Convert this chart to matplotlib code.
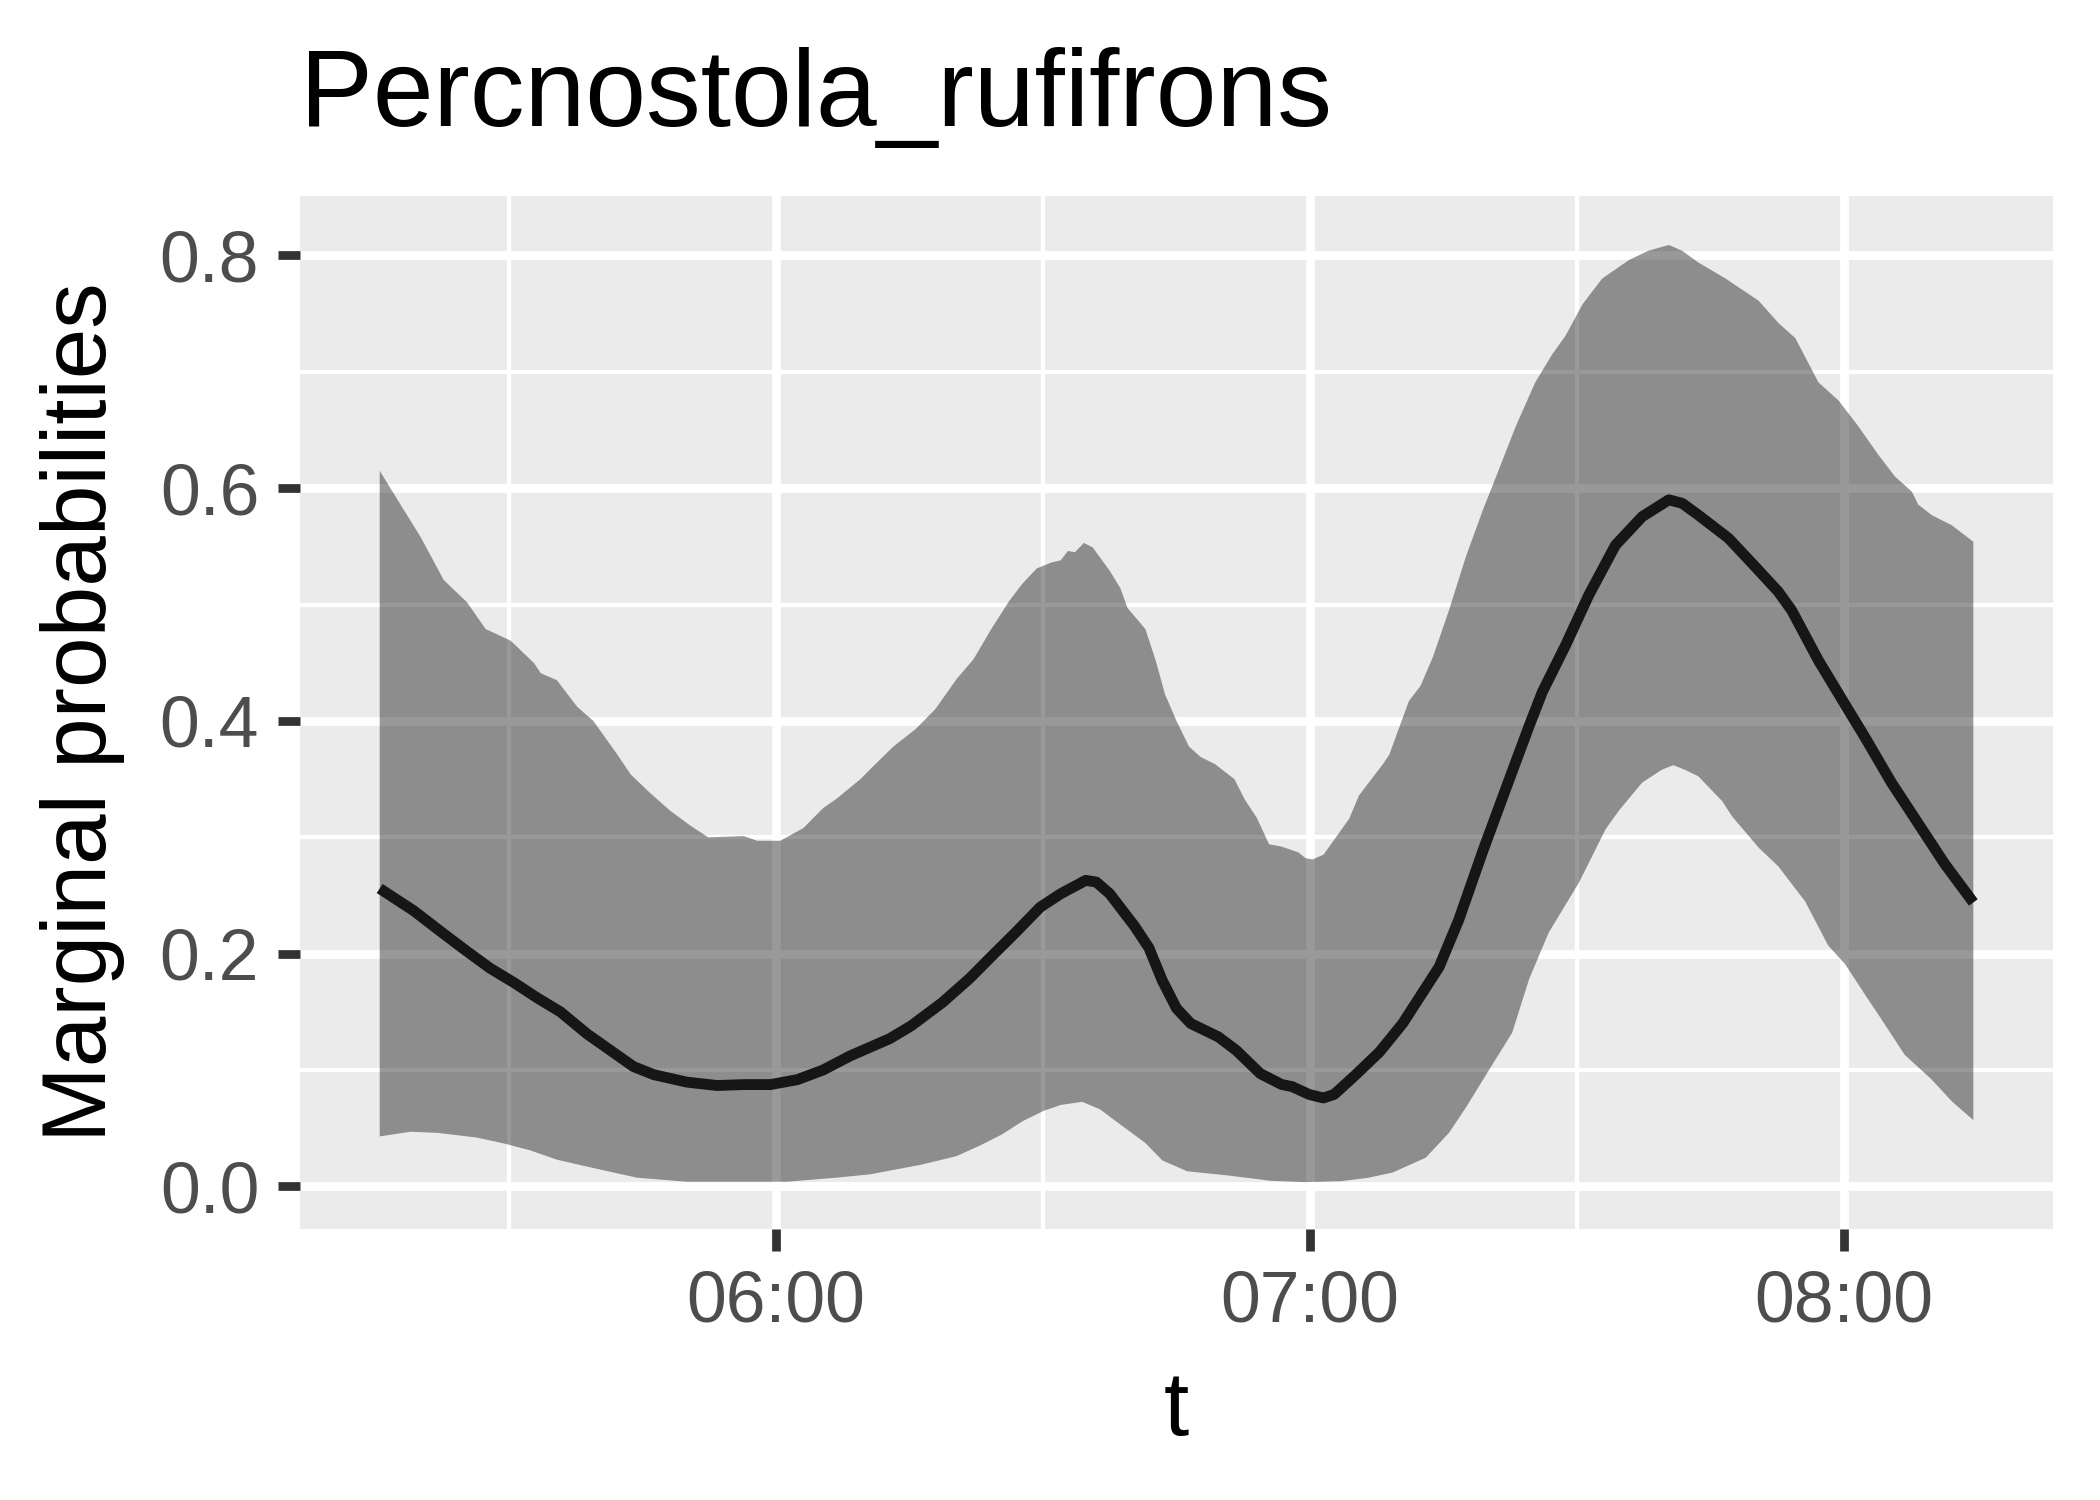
import matplotlib
matplotlib.use("Agg")
import matplotlib.pyplot as plt
import numpy as np

# ---- data (time in minutes relative to 06:00) ----
title = "Percnostola_rufifrons"
x_label = "t"
y_label = "Marginal probabilities"
x_tick_minutes = [0, 60, 120]
x_tick_labels = ["06:00", "07:00", "08:00"]
y_ticks = [0.0, 0.2, 0.4, 0.6, 0.8]
y_tick_labels = ["0.0", "0.2", "0.4", "0.6", "0.8"]

t_mean = [-44.5, -40.7, -37.3, -34.7, -32.1, -29.4, -26.8, -24.2, -21.2, -18.6,
          -16.0, -13.7, -10.0, -6.6, -3.6, -0.6, 2.4, 5.3, 8.3, 12.8,
          15.2, 18.7, 21.8, 24.2, 26.9, 29.7, 32.0, 34.8, 36.0, 37.5,
          40.3, 41.9, 43.4, 45.0, 46.6, 49.7, 51.7, 54.4, 56.8, 58.0,
          59.9, 61.5, 62.7, 65.0, 67.8, 70.4, 74.5, 76.7, 79.4, 82.0,
          84.6, 86.1, 88.7, 91.3, 94.3, 97.3, 100.3, 101.8, 103.6, 107.0,
          109.7, 112.6, 114.1, 117.1, 120.1, 122.4, 125.3, 128.3, 131.3, 134.5]
mean = [0.256, 0.237, 0.217, 0.202, 0.1875, 0.175, 0.162, 0.150, 0.131, 0.117,
        0.103, 0.096, 0.0896, 0.0867, 0.0875, 0.0875, 0.0917, 0.100, 0.112, 0.127,
        0.138, 0.158, 0.179, 0.1975, 0.218, 0.240, 0.2515, 0.263, 0.2615, 0.2515,
        0.2235, 0.205, 0.177, 0.153, 0.140, 0.1285, 0.117, 0.097, 0.0876, 0.0857,
        0.079, 0.076, 0.079, 0.095, 0.1155, 0.140, 0.1886, 0.229, 0.288, 0.342,
        0.3955, 0.425, 0.465, 0.508, 0.551, 0.5755, 0.590, 0.587, 0.577, 0.557,
        0.535, 0.511, 0.495, 0.452, 0.414, 0.385, 0.347, 0.312, 0.277, 0.244]

t_upper = [-44.5, -43.3, -39.9, -37.3, -34.7, -32.6, -29.8, -27.2, -26.4, -24.6,
           -22.3, -20.5, -17.8, -16.3, -14.4, -11.9, -9.6, -7.6, -3.6, -2.1,
           0.5, 3.1, 5.3, 6.8, 9.5, 10.8, 13.2, 15.7, 17.9, 20.3,
           22.2, 24.2, 26.2, 27.7, 29.3, 30.9, 32.0, 32.8, 33.6, 34.6,
           35.6, 37.5, 38.7, 39.5, 41.5, 42.7, 43.7, 45.0, 46.4, 47.7,
           49.3, 51.5, 52.7, 54.0, 55.4, 56.8, 58.7, 59.5, 60.3, 61.5,
           63.1, 64.4, 65.5, 68.2, 68.9, 71.1, 72.4, 73.8, 75.6, 77.5,
           79.4, 80.9, 83.1, 85.3, 87.2, 88.7, 90.6, 92.8, 95.8, 98.0,
           100.3, 101.8, 103.6, 106.7, 110.4, 112.6, 114.5, 117.1, 119.4, 121.6,
           123.8, 125.7, 127.6, 128.3, 129.8, 132.1, 134.5]
upper = [0.615, 0.600, 0.558, 0.521, 0.502, 0.479, 0.469, 0.450, 0.441, 0.435,
         0.412, 0.400, 0.371, 0.354, 0.340, 0.323, 0.310, 0.300, 0.301, 0.297,
         0.297, 0.308, 0.325, 0.333, 0.350, 0.360, 0.378, 0.393, 0.410, 0.436,
         0.453, 0.479, 0.503, 0.518, 0.531, 0.536, 0.538, 0.546, 0.545, 0.553,
         0.549, 0.529, 0.514, 0.497, 0.479, 0.451, 0.423, 0.400, 0.378, 0.369,
         0.363, 0.350, 0.332, 0.317, 0.294, 0.292, 0.287, 0.282, 0.281, 0.285,
         0.302, 0.316, 0.336, 0.363, 0.371, 0.417, 0.430, 0.455, 0.495, 0.541,
         0.581, 0.610, 0.653, 0.691, 0.715, 0.731, 0.758, 0.780, 0.796, 0.804,
         0.809, 0.804, 0.794, 0.780, 0.761, 0.742, 0.729, 0.691, 0.675, 0.653,
         0.629, 0.610, 0.597, 0.586, 0.577, 0.568, 0.554]

t_lower = [-44.5, -41.0, -38.0, -33.6, -30.6, -27.6, -24.6, -21.2, -15.6, -10.0,
           -4.4, 1.2, 6.8, 10.6, 12.4, 16.3, 20.3, 23.0, 25.4, 27.7,
           30.1, 32.0, 34.4, 36.4, 37.9, 41.5, 43.4, 46.2, 50.9, 55.6,
           59.5, 63.5, 66.6, 69.3, 73.0, 75.6, 77.5, 80.1, 82.7, 84.6,
           86.8, 90.2, 93.2, 94.7, 97.3, 99.5, 100.8, 102.1, 103.6, 106.3,
           107.4, 110.4, 112.6, 115.6, 118.2, 120.1, 122.4, 123.8, 126.8, 129.8,
           132.1, 134.5]
lower = [0.043, 0.047, 0.046, 0.042, 0.037, 0.031, 0.023, 0.017, 0.0075, 0.004,
         0.004, 0.004, 0.0075, 0.0104, 0.013, 0.0186, 0.026, 0.0354, 0.0447, 0.056,
         0.065, 0.070, 0.0727, 0.0663, 0.0577, 0.0373, 0.0224, 0.013, 0.0093, 0.0048,
         0.0037, 0.0045, 0.0075, 0.012, 0.0247, 0.046, 0.0677, 0.100, 0.132, 0.178,
         0.218, 0.261, 0.307, 0.323, 0.347, 0.358, 0.362, 0.358, 0.3525, 0.331,
         0.318, 0.291, 0.275, 0.245, 0.207, 0.191, 0.164, 0.148, 0.113, 0.092,
         0.073, 0.057]

# ---- figure ----
plt.rcParams['font.family'] = ['Liberation Sans', 'DejaVu Sans']
fig = plt.figure(figsize=(7, 5), dpi=300)
ax = fig.add_axes([300 / 2100, 1 - 1229 / 1500, (2053 - 300) / 2100, (1229 - 195.5) / 1500])

ax.set_facecolor('#EBEBEB')
for s in ax.spines.values():
    s.set_visible(False)
ax.set_axisbelow(True)

poly_x = np.concatenate([np.array(t_upper), np.array(t_lower)[::-1]])
poly_y = np.concatenate([np.array(upper), np.array(lower)[::-1]])
ax.fill(poly_x, poly_y, color='black', alpha=0.4, linewidth=0, zorder=2)
ax.plot(t_mean, mean, color='#161616', linewidth=2.6, zorder=3,
        solid_joinstyle='round', solid_capstyle='butt')

ax.set_xlim(-53.45, 143.45)
ax.set_ylim(-0.0366, 0.8515)

ax.set_xticks(x_tick_minutes)
ax.set_xticklabels(x_tick_labels)
ax.set_xticks([-30, 30, 90], minor=True)
ax.set_yticks(y_ticks)
ax.set_yticklabels(y_tick_labels)
ax.set_yticks([0.1, 0.3, 0.5, 0.7], minor=True)

ax.grid(which='major', color='white', linewidth=2.1)
ax.grid(which='minor', color='white', linewidth=1.05)

ax.tick_params(which='major', length=5.3, width=2.1, color='#333333',
               labelsize=17.2, labelcolor='#4D4D4D', pad=4.5)
ax.tick_params(which='minor', length=0)

fig.text(300 / 2100, 1 - 126 / 1500, title, fontsize=26.2, color='black',
         ha='left', va='baseline')
fig.text((300 + 2053) / 2 / 2100, 1 - 1435 / 1500, x_label, fontsize=21.8,
         color='black', ha='center', va='baseline')
fig.text(40 / 2100, 1 - (195.5 + 1229) / 2 / 1500, y_label, fontsize=21.8,
         color='black', ha='left', va='center', rotation=90)

fig.savefig('out.png', dpi=300, facecolor='white')
